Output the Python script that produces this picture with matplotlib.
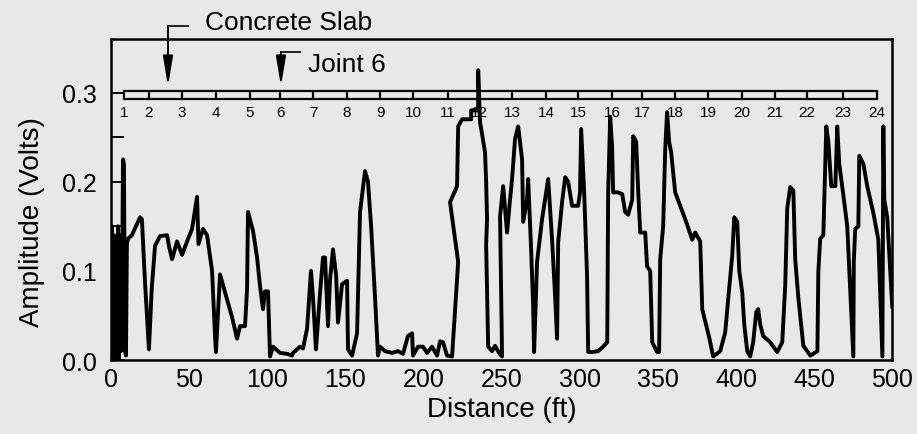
import matplotlib.pyplot as plt

plt.rcParams['font.family'] = ['Liberation Sans', 'DejaVu Sans']

# trace (distance in ft, amplitude in volts)
distance = [0, 0.6, 1.3, 1.9, 2.6, 3.2, 3.8, 4.5, 5.1, 5.8, 6.4, 7.0, 7.7, 8.3, 9.0, 9.6, 10.2, 10.9,
            13.4, 18.6, 19.8, 21.8, 24.3, 26.1, 28.2, 31.4, 35.9, 37.1,
            39.1, 42.3, 45.5, 48.7, 51.9, 55.1, 56.0, 58.9, 61.5, 64.7,
            66.6, 67.2, 69.8, 73.0, 77.5, 80.7, 82.6, 85.8, 87.1, 87.7,
            90.9, 93.5, 95.4, 97.3, 98.6, 100.5, 101.8, 103.7, 108.2, 112.7,
            115.9, 116.5, 121.0, 122.9, 125.5, 128.0, 129.3, 131.2, 133.8, 135.7,
            137.0, 138.9, 140.2, 142.1, 144.1, 145.3, 147.9, 151.1, 151.7, 154.3,
            157.5, 159.4, 162.6, 164.5, 166.5, 169.0, 170.9, 172.2, 175.4, 179.9,
            183.7, 186.9, 190.1, 192.7, 193.3, 196.5, 199.7, 202.3, 205.5, 208.7,
            210.6, 212.5, 215.1, 218.3, 222.2, 217.0, 221.5, 222.2, 224.7, 230.5,
            230.5, 235.0, 235.0, 236.2, 239.4, 240.1, 240.7, 240.1, 241.4, 243.9,
            245.8, 248.4, 250.3, 249.0, 251.0, 253.5, 255.4, 256.7, 258.6, 260.6,
            263.1, 263.8, 266.3, 267.0, 268.9, 270.2, 270.8, 272.7, 275.9, 279.8,
            282.3, 284.3, 285.5, 286.2, 288.7, 290.7, 292.6, 295.1, 299.0, 300.2,
            300.9, 302.8, 304.7, 305.4, 308.0, 311.8, 315.0, 317.6, 318.2, 319.5,
            320.7, 321.4, 324.6, 327.2, 329.1, 331.0, 333.6, 334.2, 336.1, 337.4,
            338.7, 341.9, 343.1, 345.1, 346.4, 349.5, 350.8, 351.5, 353.4, 354.7,
            355.9, 357.2, 358.5, 361.1, 367.5, 372.0, 373.9, 377.1, 378.4, 382.9,
            385.4, 389.9, 393.1, 395.1, 397.6, 398.9, 400.8, 402.1, 404.0, 405.3,
            407.2, 409.1, 411.0, 413.0, 414.2, 415.5, 417.4, 421.9, 426.4, 429.6,
            431.5, 432.8, 434.7, 436.7, 437.9, 439.9, 443.1, 447.6, 452.1, 452.7,
            453.9, 455.9, 457.8, 459.1, 461.0, 463.6, 464.8, 466.1, 468.7, 471.2,
            473.2, 475.1, 475.4, 476.3, 478.3, 478.9, 481.5, 484.0, 487.9, 491.1,
            493.7, 494.3, 494.9, 496.8, 500.0]

amplitude = [0.0, 0.15, 0.02, 0.14, 0.0, 0.13, 0.05, 0.15, 0.0, 0.14, 0.01, 0.05, 0.225, 0.22, 0.01, 0.005, 0.13, 0.136,
             0.14, 0.160, 0.158, 0.087, 0.012, 0.08, 0.128, 0.139, 0.14, 0.128,
             0.113, 0.133, 0.118, 0.133, 0.147, 0.183, 0.13, 0.147, 0.14, 0.10,
             0.027, 0.009, 0.096, 0.076, 0.048, 0.024, 0.038, 0.038, 0.08, 0.166,
             0.145, 0.115, 0.083, 0.057, 0.077, 0.077, 0.004, 0.015, 0.008, 0.007,
             0.005, 0.008, 0.015, 0.013, 0.035, 0.10, 0.07, 0.012, 0.075, 0.115,
             0.115, 0.038, 0.09, 0.124, 0.095, 0.042, 0.085, 0.089, 0.012, 0.005,
             0.03, 0.166, 0.212, 0.20, 0.15, 0.07, 0.005, 0.015, 0.01, 0.008,
             0.01, 0.007, 0.027, 0.03, 0.005, 0.015, 0.015, 0.008, 0.015, 0.005,
             0.021, 0.02, 0.005, 0.004, 0.11, 0.177, 0.195, 0.262, 0.270, 0.270,
             0.28, 0.28, 0.325, 0.267, 0.233, 0.20, 0.158, 0.13, 0.015, 0.01,
             0.016, 0.008, 0.004, 0.161, 0.195, 0.143, 0.18, 0.203, 0.248, 0.262,
             0.225, 0.155, 0.18, 0.203, 0.124, 0.06, 0.009, 0.11, 0.158, 0.203,
             0.135, 0.07, 0.024, 0.132, 0.177, 0.205, 0.20, 0.173, 0.173, 0.188,
             0.259, 0.19, 0.094, 0.009, 0.009, 0.01, 0.015, 0.02, 0.188, 0.273,
             0.24, 0.188, 0.188, 0.186, 0.166, 0.163, 0.18, 0.251, 0.245, 0.19,
             0.143, 0.143, 0.105, 0.10, 0.02, 0.009, 0.009, 0.113, 0.15, 0.236,
             0.278, 0.245, 0.233, 0.188, 0.158, 0.135, 0.143, 0.133, 0.057, 0.025,
             0.004, 0.01, 0.031, 0.07, 0.117, 0.16, 0.155, 0.10, 0.076, 0.04,
             0.01, 0.004, 0.02, 0.054, 0.057, 0.04, 0.027, 0.02, 0.009, 0.02,
             0.083, 0.17, 0.194, 0.19, 0.113, 0.07, 0.016, 0.005, 0.01, 0.099,
             0.136, 0.14, 0.262, 0.245, 0.195, 0.195, 0.262, 0.22, 0.185, 0.15,
             0.076, 0.004, 0.11, 0.147, 0.15, 0.229, 0.22, 0.195, 0.165, 0.135,
             0.004, 0.262, 0.18, 0.16, 0.06]

# joint positions along the slab (ft) and their numbers
joint_ft = [8.3, 24.3, 45.5, 67.2, 89.0, 108.2, 129.3, 151.1, 172.2, 193.3, 215.7, 235.6,
            256.7, 278.5, 299.0, 320.7, 339.9, 361.1, 382.2, 403.9, 425.0, 445.5, 468.6, 490.4]
joint_labels = [str(i) for i in range(1, 25)]

x_ticks = [0, 50, 100, 150, 200, 250, 300, 350, 400, 450, 500]
y_ticks = [0.0, 0.1, 0.2, 0.3]
y_minor = [0.05, 0.15, 0.25]

bg = '#e8e8e6'
fig = plt.figure(figsize=(9.17, 4.35), dpi=100, facecolor=bg)
ax = fig.add_axes([0.121, 0.170, 0.852, 0.738], facecolor=bg)

# joint ruler along the top
ax.plot([joint_ft[0], joint_ft[-1]], [0.302, 0.302], color='black', lw=1.6)
ax.plot([joint_ft[0], joint_ft[-1]], [0.2925, 0.2925], color='black', lw=1.6)
ax.vlines(joint_ft, 0.2925, 0.302, color='black', lw=1.6)
for j, lab in zip(joint_ft, joint_labels):
    ax.text(j, 0.278, lab, ha='center', va='center', fontsize=11)

ax.plot(distance, amplitude, color='black', lw=2.8)

# arrows for the annotations
ax.plot([36.5, 49.3], [0.3744, 0.3744], color='black', lw=1.2, clip_on=False)
ax.annotate('', xy=(36.5, 0.307), xytext=(36.5, 0.3744), annotation_clip=False,
            arrowprops=dict(arrowstyle='-|>,head_length=1.8,head_width=0.3',
                            color='black', lw=1.4, shrinkA=0, shrinkB=0))
ax.text(113.6, 0.379, 'Concrete Slab', ha='center', va='center', fontsize=19, clip_on=False)

ax.plot([108.8, 121.0], [0.345, 0.345], color='black', lw=1.2)
ax.annotate('', xy=(108.8, 0.307), xytext=(108.8, 0.345),
            arrowprops=dict(arrowstyle='-|>,head_length=1.8,head_width=0.3',
                            color='black', lw=1.4, shrinkA=0, shrinkB=0))
ax.text(126.1, 0.332, 'Joint 6', ha='left', va='center', fontsize=19)

ax.set_xlim(0, 500)
ax.set_ylim(0, 0.36)
ax.set_xticks(x_ticks)
ax.set_yticks(y_ticks)
ax.set_yticks(y_minor, minor=True)
ax.set_yticklabels(['%.1f' % v for v in y_ticks])
ax.tick_params(axis='x', length=0, pad=5, labelsize=18)
ax.tick_params(axis='y', which='both', direction='in', length=9, width=1.4, pad=10, labelsize=18)

for s in ax.spines.values():
    s.set_linewidth(1.8)

ax.set_xlabel('Distance (ft)', fontsize=20)
ax.xaxis.set_label_coords(0.5, -0.112)
ax.set_ylabel('Amplitude (Volts)', fontsize=20)
ax.yaxis.set_label_coords(-0.085, 0.433)

plt.savefig('out.png', dpi=100, facecolor=bg)
plt.close()
